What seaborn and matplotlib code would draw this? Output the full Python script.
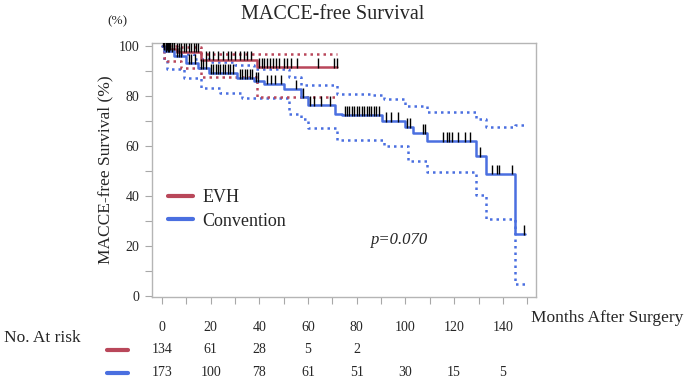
import numpy as np
import pandas as pd
import seaborn as sns
import matplotlib.pyplot as plt
from matplotlib.lines import Line2D
from matplotlib.transforms import blended_transform_factory

# Kaplan-Meier steps (months, survival %)
evh_t = [0, 1, 6, 16, 39, 72]
evh_s = [100, 98.8, 97.8, 94.6, 91.6, 91.6]
evh_up_t = [0, 6, 16, 72]
evh_up_s = [100, 99.5, 97, 97]
evh_lo_t = [0, 1, 2, 8, 16, 39, 72]
evh_lo_s = [100, 95.2, 93.9, 91.2, 87.5, 79.7, 79.7]

conv_t = [0, 1, 5, 10, 15, 19.5, 31, 38, 42, 50, 57, 60, 71, 74, 90.4, 100, 103, 109, 129, 133, 145, 149]
conv_s = [100, 97.9, 95.9, 93.2, 91.2, 89.2, 87.2, 85.9, 85, 83, 79.7, 76.4, 73, 72.4, 70.1, 67.7,
          65.3, 62.1, 56, 49, 24.7, 24.7]
conv_up_t = [0, 2, 6, 13, 20, 30, 38, 52, 57, 72, 86, 91, 100, 109, 129, 133, 145, 149]
conv_up_s = [100, 98.5, 97, 95, 93.5, 92.5, 91, 87.7, 84.4, 81, 80.4, 79, 76, 73.5, 70.7, 67.5, 68.5, 68.5]
conv_lo_t = [0, 1, 2, 9, 16, 24, 33, 52, 57, 60, 72, 91, 101, 109, 129, 133, 145, 149]
conv_lo_s = [100, 94, 91, 87.2, 83.2, 81.2, 79.2, 73, 71, 67.1, 62.4, 60, 54, 49.7, 40.4, 31, 4.8, 4.8]

# censored observations (months)
evh_cens = [0.5, 1, 1.5, 2, 2.5, 3, 3.5, 4, 5, 6, 7, 8, 9, 10, 11, 12, 13, 14, 15,
            18, 19.5, 21, 23, 25, 27, 28.5, 30, 32, 33.5, 35, 36.5,
            40, 41, 42, 43, 44.5, 45.5, 47, 48, 50, 51.5, 53, 55.5, 64, 70.5, 72]
conv_cens = [1.5, 2.5, 3, 4, 6, 7, 8, 11, 12, 13.5, 16, 17, 18, 20, 21, 22, 23, 24, 25, 26, 27, 28, 29,
             32, 33, 34, 35, 36, 37, 38.5, 39.5, 43, 44.6, 46.6, 48.7, 55, 57.9, 60.6, 62.6, 65.4, 69,
             75, 76, 77, 78, 79, 80, 81, 82, 83, 84, 85, 86, 87, 88, 89, 92, 94, 97, 100.7, 102, 107, 108,
             115.4, 117, 118, 119, 121.7, 124.5, 126.5, 130.7, 135.4, 137.5, 138.3, 143.8, 148.8]

risk_times = [0, 20, 40, 60, 80, 100, 120, 140]
evh_risk = [134, 61, 28, 5, 2]
conv_risk = [173, 100, 78, 61, 51, 30, 15, 5]

groups = ['EVH', 'Convention']
colors = {'EVH': '#b9475a', 'Convention': '#4a6fe0'}

sns.set_theme(style='white')
plt.rcParams['font.family'] = ['Liberation Serif', 'DejaVu Serif']

fig = plt.figure(figsize=(7, 3.83), dpi=100)
ax = fig.add_axes([0.2171, 0.2245, 0.5486, 0.6632])

km = pd.concat([
    pd.DataFrame({'t': evh_t, 's': evh_s, 'group': 'EVH'}),
    pd.DataFrame({'t': conv_t, 's': conv_s, 'group': 'Convention'}),
])
ci = pd.concat([
    pd.DataFrame({'t': evh_up_t, 's': evh_up_s, 'group': 'EVH', 'b': 'up'}),
    pd.DataFrame({'t': evh_lo_t, 's': evh_lo_s, 'group': 'EVH', 'b': 'lo'}),
    pd.DataFrame({'t': conv_up_t, 's': conv_up_s, 'group': 'Convention', 'b': 'up'}),
    pd.DataFrame({'t': conv_lo_t, 's': conv_lo_s, 'group': 'Convention', 'b': 'lo'}),
])
ci['key'] = ci['group'] + ci['b']

for key, d in ci.groupby('key'):
    sns.lineplot(data=d, x='t', y='s', color=colors[d['group'].iloc[0]], drawstyle='steps-post',
                 estimator=None, sort=False, lw=1.8, linestyle=(0, (1, 1.6)), ax=ax, legend=False)

sns.lineplot(data=km, x='t', y='s', hue='group', palette=colors, hue_order=groups,
             drawstyle='steps-post', estimator=None, sort=False, lw=1.8, ax=ax, legend=False)

# censor marks
for t_, s_, cens in [(evh_t, evh_s, evh_cens), (conv_t, conv_s, conv_cens)]:
    idx = np.searchsorted(t_, cens, side='right') - 1
    sv = np.array(s_)[idx]
    ax.vlines(cens, sv - 0.3, sv + 3.6, color='black', lw=1.0, zorder=5)

ax.set_xlim(-4.1, 153.6)
ax.set_ylim(-0.4, 101.2)
ax.set_xticks(range(0, 141, 20))
ax.set_xticks(range(0, 151, 10), minor=True)
ax.set_yticks(range(0, 101, 20))
ax.set_yticks(range(10, 100, 20), minor=True)
ax.tick_params(axis='both', which='both', direction='out', length=5, width=0.8,
               color='#a8a8a8', labelsize=10, left=True, bottom=True)
ax.tick_params(axis='x', pad=12)
ax.tick_params(axis='y', pad=4)
for sp in ax.spines.values():
    sp.set_color('#b5b5b5')
    sp.set_linewidth(1)
ax.set_xlabel('')
ax.set_ylabel('MACCE-free Survival (%)', fontsize=12.5, labelpad=4)

fig.text(0.475, 0.963, 'MACCE-free Survival', ha='center', va='center', fontsize=14.5)
fig.text(0.168, 0.945, '(%)', ha='center', va='center', fontsize=9.5)
fig.text(0.759, 0.170, 'Months After Surgery', ha='left', va='center', fontsize=12.5)

handles = [Line2D([], [], color=colors[g], lw=3) for g in groups]
ax.legend(handles, groups, loc='center left', bbox_to_anchor=(0.0, 0.345), frameon=False,
          fontsize=13, handlelength=1.4, handletextpad=0.5, labelspacing=0.35)

ax.text(86, 22.4, 'p=0.070', style='italic', fontsize=12, ha='left', va='center')

# number at risk table
tr = blended_transform_factory(ax.transData, fig.transFigure)
fig.text(0.006, 0.118, 'No. At risk', ha='left', va='center', fontsize=12.5)
for vals, g, yy in [(evh_risk, 'EVH', 0.087), (conv_risk, 'Convention', 0.027)]:
    fig.add_artist(Line2D([0.153, 0.183], [yy, yy], color=colors[g], lw=3, transform=fig.transFigure))
    for tt, v in zip(risk_times, vals):
        ax.text(tt, yy, str(v), transform=tr, ha='center', va='center', fontsize=10, clip_on=False)

fig.savefig('out.png', dpi=100)
